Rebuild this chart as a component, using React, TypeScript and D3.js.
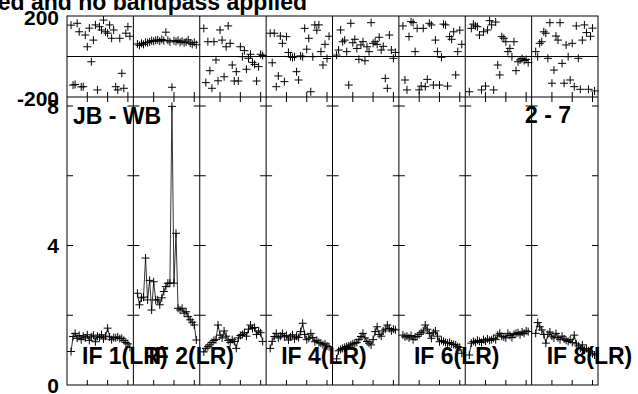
import React from "react";
import * as d3 from "d3";

// ---- data ----
const TITLE = "ed and no bandpass applied";
const BASELINE_LABEL = "JB - WB";
const SOURCE_LABEL = "2 - 7";
const IF_NAMES = ["IF 1(LR)", "IF 2(LR)", "IF 3(LR)", "IF 4(LR)", "IF 5(LR)", "IF 6(LR)", "IF 7(LR)", "IF 8(LR)"];
const LABELED_IFS = [0, 1, 3, 5, 7];
const CHANNELS = d3.range(2, 32);
const CHAN_TICKS = [10, 20, 30];
const AMP_LABELS = [0, 4, 8];
const AMP_TICKS = [2, 4, 6, 8];
const PHASE_LABELS = [200, -200];

const AMP_IF1 = [0.96, 1.39, 1.48, 1.34, 1.42, 1.30, 1.40, 1.35, 1.44, 1.28, 1.38, 1.43, 1.24, 1.40, 1.36, 1.44, 1.32, 1.40, 1.63, 1.38, 1.30, 1.36, 1.35, 1.38, 1.33, 1.34, 1.28, 1.22, 1.18, 1.08];
const AMP_IF2 = [2.63, 2.30, 2.50, 2.52, 3.64, 2.44, 3.00, 2.15, 2.96, 2.44, 2.44, 2.30, 2.50, 2.68, 2.82, 2.92, 2.92, 7.99, 2.92, 4.35, 2.20, 2.15, 2.20, 2.06, 2.10, 1.96, 1.87, 1.80, 1.72, 1.29];
const AMP_IF3 = [0.95, 1.05, 1.10, 1.15, 1.22, 1.28, 1.30, 1.72, 1.43, 1.35, 1.55, 1.40, 1.28, 1.22, 1.30, 1.25, 1.05, 1.35, 1.42, 1.45, 1.50, 1.40, 1.60, 1.72, 1.62, 1.65, 1.45, 1.55, 1.50, 1.25];
const AMP_IF4 = [1.05, 1.25, 1.39, 1.48, 1.35, 1.40, 1.48, 1.38, 1.42, 1.29, 1.38, 1.44, 1.32, 1.40, 1.36, 1.53, 1.77, 1.45, 1.30, 1.34, 1.48, 1.36, 1.24, 1.28, 1.22, 1.20, 1.15, 1.18, 1.12, 1.10];
const AMP_IF5 = [0.75, 0.98, 1.02, 1.05, 1.08, 1.10, 1.12, 1.15, 1.18, 1.20, 1.22, 1.30, 1.39, 1.48, 1.35, 1.25, 1.20, 1.15, 1.30, 1.53, 1.67, 1.45, 1.40, 1.55, 1.60, 1.72, 1.62, 1.55, 1.60, 1.58];
const AMP_IF6 = [1.43, 1.38, 1.40, 1.35, 1.42, 1.30, 1.38, 1.39, 1.45, 1.50, 1.55, 1.72, 1.60, 1.48, 1.34, 1.50, 1.55, 1.40, 1.24, 1.28, 1.25, 1.22, 1.20, 1.22, 1.18, 1.16, 1.15, 1.10, 1.08, 0.91];
const AMP_IF7 = [0.86, 1.20, 1.25, 1.22, 1.28, 1.25, 1.22, 1.30, 1.26, 1.32, 1.28, 1.30, 1.34, 1.30, 1.43, 1.48, 1.40, 1.38, 1.35, 1.48, 1.42, 1.36, 1.45, 1.48, 1.50, 1.44, 1.52, 1.48, 1.55, 1.53];
const AMP_IF8 = [1.48, 1.79, 1.67, 1.58, 1.45, 1.20, 1.45, 1.52, 1.40, 1.35, 1.48, 1.36, 1.30, 1.40, 1.32, 1.28, 1.25, 1.30, 1.22, 1.43, 1.18, 1.12, 1.05, 1.15, 1.00, 1.05, 0.98, 0.95, 0.90, 0.86];

const PHASE_IF1 = [155, -141, -138, 164, 122, -150, -149, 106, 48, 140, -26, 81, 156, -165, 147, 131, 180, 122, 115, 156, 90, 131, -149, -165, 90, -83, -157, 115, 147, 100];
const PHASE_IF2 = [62, 55, 65, 60, 70, 68, 72, 78, 75, 80, 82, 76, 84, 78, 120, 80, 72, -152, 78, 74, 80, 70, 76, 68, 72, 82, 66, 60, 70, 58];
const PHASE_IF3 = [139, -129, 73, -70, -157, 73, -17, -120, 131, 81, -100, 48, 151, 65, -42, -121, -75, -121, 48, -1, 29, -63, -9, 11, -29, -39, -121, -50, 11, 5];
const PHASE_IF4 = [115, -31, 115, -149, -96, 101, 65, -124, 98, 20, -1, -5, -1, -75, -116, 3, -1, 139, 36, 90, -174, -1, 156, 130, 156, 24, -42, 60, -10, 100];
const PHASE_IF5 = [7, 32, 131, 73, 81, 24, -141, 164, 68, 85, 40, -14, 57, 73, -21, 48, 24, 167, 65, 73, 60, 95, 32, 50, -108, -157, 106, 32, -9, 20];
const PHASE_IF6 = [151, -116, -165, 98, 172, 167, 24, 139, -165, -146, 139, -149, -113, 164, 156, -141, 81, 24, -141, -4, 160, 156, -146, 98, 85, 122, -91, 24, 130, 60];
const PHASE_IF7 = [-174, 139, 160, 151, 147, 106, -165, 122, -146, 131, 177, 156, -165, 170, -42, -91, 98, 90, 73, 24, 40, -1, 73, -70, -26, -17, -10, -20, -15, -30];
const PHASE_IF8 = [24, -1, 65, 73, 122, 115, -9, 167, -132, -67, 101, 81, 167, -34, -132, 57, -1, -116, 65, -149, 151, -9, -162, 81, 156, 118, -162, 100, 140, -170];

const AMPS = [AMP_IF1, AMP_IF2, AMP_IF3, AMP_IF4, AMP_IF5, AMP_IF6, AMP_IF7, AMP_IF8];
const PHASES = [PHASE_IF1, PHASE_IF2, PHASE_IF3, PHASE_IF4, PHASE_IF5, PHASE_IF6, PHASE_IF7, PHASE_IF8];

// ---- layout ----
const W = 638;
const H = 394;
const FONT = "'Liberation Sans', Arial, Helvetica, sans-serif";

const panelX = d3.scaleLinear().domain([0, 8]).range([67, 598]);
const phaseY = d3.scaleLinear().domain([-200, 200]).range([97, 16]);
const ampY = d3.scaleLinear().domain([0, 8]).range([385, 106]);
const chanDomain: [number, number] = [0, 32.7];

const plus = (x: number, y: number, s = 4) => `M${x - s},${y}H${x + s}M${x},${y - s}V${y + s}`;

export default function App() {
  const top = phaseY(200);
  const mid = phaseY(-200);
  const bottom = ampY(0);
  const left = panelX(0);
  const right = panelX(8);
  const tickLen = 5;

  const panels = d3.range(8).map((i) => {
    const x = d3.scaleLinear().domain(chanDomain).range([panelX(i), panelX(i + 1)]);
    const line = d3
      .line<number>()
      .x((_, k) => x(CHANNELS[k]))
      .y((d) => ampY(d));
    return { i, x, line };
  });

  return (
    <svg
      width={W}
      height={H}
      style={{ position: "absolute", left: 0, top: 0, background: "#fff" }}
      fontFamily={FONT}
      fontWeight="bold"
    >
      <rect x={0} y={0} width={W} height={H} fill="#fff" />
      <text x={307} y={10} fontSize={23} textAnchor="end" fill="#000">
        {TITLE}
      </text>

      {/* frame */}
      <g stroke="#000" strokeWidth={1} fill="none">
        <rect x={left} y={top} width={right - left} height={bottom - top} />
        <line x1={left} x2={right} y1={mid} y2={mid} />
        <line x1={left} x2={right} y1={phaseY(0)} y2={phaseY(0)} />
        {d3.range(1, 8).map((i) => (
          <line key={i} x1={panelX(i)} x2={panelX(i)} y1={top} y2={bottom} />
        ))}
      </g>

      {/* ticks */}
      <g stroke="#000" strokeWidth={1}>
        {panels.map(({ i, x }) =>
          CHAN_TICKS.map((c) => (
            <g key={`t${i}-${c}`}>
              <line x1={x(c)} x2={x(c)} y1={mid - tickLen} y2={mid + tickLen} />
              <line x1={x(c)} x2={x(c)} y1={bottom} y2={bottom - tickLen} />
            </g>
          ))
        )}
        {d3.range(0, 9).map((i) =>
          AMP_TICKS.map((a) => (
            <line
              key={`a${i}-${a}`}
              x1={panelX(i) - (i === 0 ? 0 : 6)}
              x2={panelX(i) + (i === 8 ? 0 : 6)}
              y1={ampY(a)}
              y2={ampY(a)}
            />
          ))
        )}
      </g>

      {/* data */}
      {panels.map(({ i, x, line }) => (
        <g key={`d${i}`} stroke="#000" fill="none">
          <path d={line(AMPS[i]) || ""} strokeWidth={0.8} />
          <path d={AMPS[i].map((a, k) => plus(x(CHANNELS[k]), ampY(a))).join("")} strokeWidth={1} />
          <path d={PHASES[i].map((p, k) => plus(x(CHANNELS[k]), phaseY(p))).join("")} strokeWidth={1} />
        </g>
      ))}

      {/* axis labels */}
      <g fontSize={21} textAnchor="end" fill="#000">
        {PHASE_LABELS.map((p) => (
          <text key={`p${p}`} x={59} y={phaseY(p) + 9}>
            {String(p)}
          </text>
        ))}
        {AMP_LABELS.map((a) => (
          <text key={`al${a}`} x={59} y={ampY(a) + 7.5}>
            {String(a)}
          </text>
        ))}
      </g>

      {/* panel labels */}
      <g fontSize={23} fill="#000">
        <text x={left + 6} y={mid + 27}>
          {BASELINE_LABEL}
        </text>
        <text x={525} y={mid + 26}>
          {SOURCE_LABEL}
        </text>
        {LABELED_IFS.map((i) => (
          <text key={`if${i}`} x={panelX(i) + 15} y={364}>
            {IF_NAMES[i]}
          </text>
        ))}
      </g>
    </svg>
  );
}
